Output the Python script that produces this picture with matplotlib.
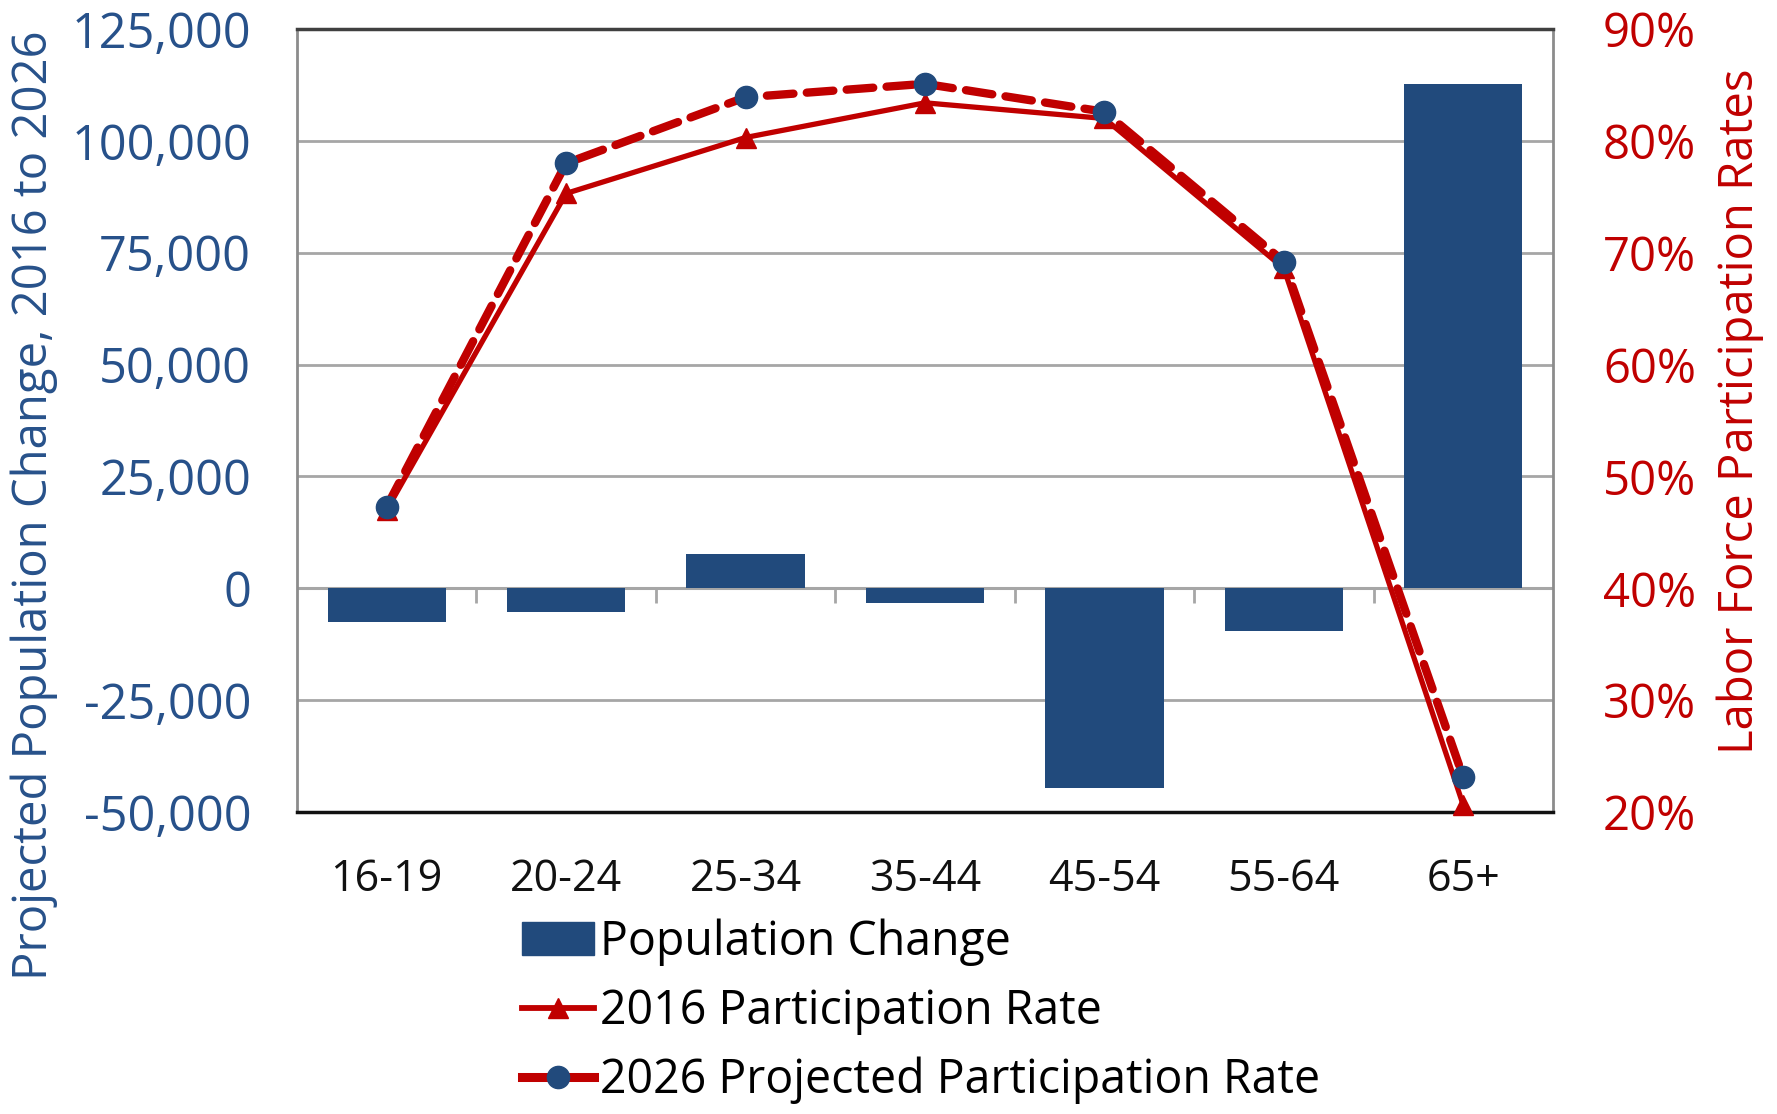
import matplotlib
matplotlib.use('Agg')
import matplotlib.pyplot as plt
from matplotlib.lines import Line2D
from matplotlib.patches import Patch
from matplotlib.ticker import FuncFormatter
import numpy as np

# data
age_groups = ['16-19', '20-24', '25-34', '35-44', '45-54', '55-64', '65+']
pop_change = [-7500, -5300, 7700, -3300, -44700, -9500, 112800]
rate_2016 = [47.0, 75.3, 80.3, 83.4, 82.0, 68.6, 20.6]
rate_2026 = [47.3, 78.0, 83.9, 85.1, 82.6, 69.2, 23.1]

left_ticks = [-50000, -25000, 0, 25000, 50000, 75000, 100000, 125000]
right_ticks = [20, 30, 40, 50, 60, 70, 80, 90]

navy = '#214A7C'
blue_text = '#27518A'
red = '#C00000'
grid_col = '#A6A6A6'

plt.rcParams['font.family'] = ['Open Sans', 'DejaVu Sans']

fig = plt.figure(figsize=(17.77, 11.14), dpi=100)
ax = fig.add_axes([297 / 1777, 1 - 812 / 1114, (1553 - 297) / 1777, (812 - 29) / 1114])

x = np.arange(len(age_groups))
ax.bar(x, pop_change, width=0.66, color=navy, zorder=3)

ax.set_xlim(-0.5, len(age_groups) - 0.5)
ax.set_ylim(left_ticks[0], left_ticks[-1])
ax.set_yticks(left_ticks)
ax.yaxis.set_major_formatter(FuncFormatter(lambda v, p: f'{int(v):,}'))
ax.tick_params(axis='y', length=0, pad=33, labelsize=35, labelcolor=blue_text)
ax.set_xticks(x)
ax.set_xticklabels(age_groups)
ax.tick_params(axis='x', length=0, pad=33, labelsize=31, labelcolor='#111111')
ax.grid(axis='y', color=grid_col, linewidth=2, zorder=0)

# zero axis line with category boundary ticks
ax.axhline(0, color=grid_col, linewidth=2.2, zorder=2)
ax.vlines(x[:-1] + 0.5, -3400, 0, color=grid_col, linewidth=2, zorder=2)

for side in ['left', 'right']:
    ax.spines[side].set_color('#8C8C8C')
    ax.spines[side].set_linewidth(2)
ax.spines['top'].set_color('#404040')
ax.spines['top'].set_linewidth(2.5)
ax.spines['bottom'].set_color('#111111')
ax.spines['bottom'].set_linewidth(2.5)

ax2 = ax.twinx()
ax2.set_ylim(right_ticks[0], right_ticks[-1])
ax2.set_yticks(right_ticks)
ax2.yaxis.set_major_formatter(FuncFormatter(lambda v, p: f'{int(v)}%'))
ax2.tick_params(axis='y', length=0, pad=36, labelsize=34, labelcolor=red)
for s in ax2.spines.values():
    s.set_visible(False)

ax2.plot(x, rate_2016, color=red, linewidth=3.8, marker='^', markersize=15,
         markerfacecolor=red, markeredgecolor=red, clip_on=False, zorder=4)
ax2.plot(x, rate_2026, color=red, linewidth=6, linestyle=(0, (3.2, 1.6)),
         dash_capstyle='round', marker='o', markersize=16,
         markerfacecolor=navy, markeredgecolor=navy, clip_on=False, zorder=5)

fig.text(34 / 1777, 1 - 505 / 1114, 'Projected Population Change, 2016 to 2026',
         rotation=90, ha='center', va='center', fontsize=34, color=blue_text)
fig.text(1740 / 1777, 1 - 411 / 1114, 'Labor Force Participation Rates',
         rotation=90, ha='center', va='center', fontsize=34, color=red)

handles = [
    Patch(facecolor=navy, edgecolor=navy),
    Line2D([], [], color=red, linewidth=4.2, marker='^', markersize=15,
           markerfacecolor=red, markeredgecolor=red),
    Line2D([], [], color=red, linewidth=6.5, marker='o', markersize=16,
           markerfacecolor=navy, markeredgecolor=navy),
]
labels = ['Population Change', '2016 Participation Rate', '2026 Projected Participation Rate']
fig.legend(handles, labels, loc='upper left', bbox_to_anchor=(522 / 1777, 1 - 918 / 1114),
           frameon=False, fontsize=33.5, handlelength=1.55, handletextpad=0.12,
           labelspacing=0.47, borderpad=0, borderaxespad=0)

fig.savefig('out.png', dpi=100)
